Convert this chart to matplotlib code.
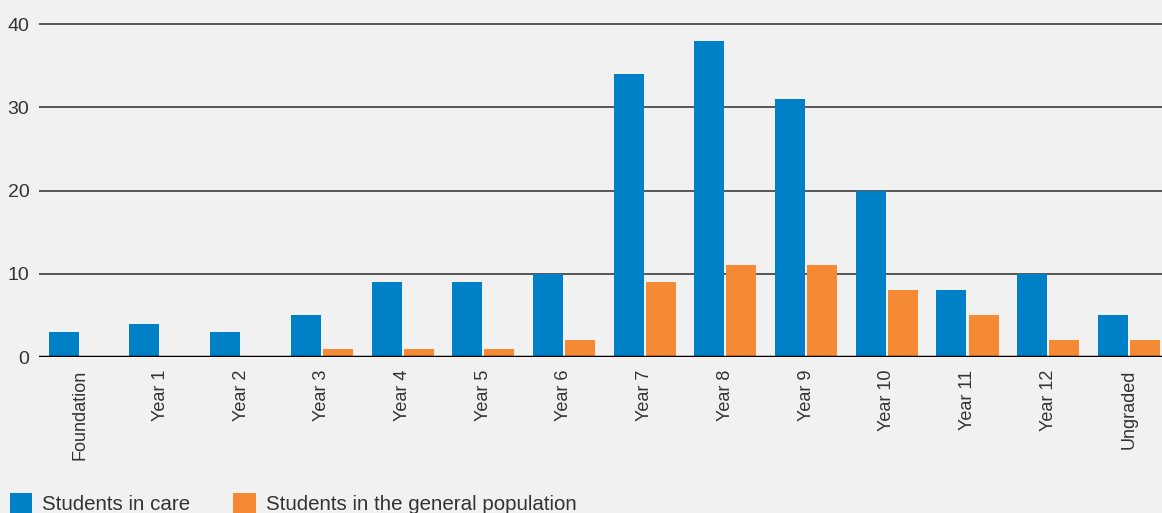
import matplotlib
matplotlib.use("Agg")
from matplotlib import pyplot as plt
import numpy as np

plt.rcParams['font.family'] = ['Liberation Sans', 'DejaVu Sans']

grades = ['Foundation', 'Year 1', 'Year 2', 'Year 3', 'Year 4', 'Year 5', 'Year 6',
          'Year 7', 'Year 8', 'Year 9', 'Year 10', 'Year 11', 'Year 12', 'Ungraded']
in_care = [3, 4, 3, 5, 9, 9, 10, 34, 38, 31, 20, 8, 10, 5]
general = [0, 0, 0, 1, 1, 1, 2, 9, 11, 11, 8, 5, 2, 2]

bg = '#f1f1f1'
blue = '#0080c6'
orange = '#f58a35'
W, H = 1162, 513

fig = plt.figure(figsize=(W / 100, H / 100), dpi=100, facecolor=bg)
ax = fig.add_axes([39 / W, 1 - 357 / H, 1 - 39 / W, (357 - 15.7) / H])
ax.set_facecolor(bg)

x = np.arange(len(grades))
w = 0.372
ax.bar(x - 0.013 - w / 2, in_care, w, color=blue, label='Students in care', zorder=3)
ax.bar(x + 0.013 + w / 2, general, w, color=orange,
       label='Students in the general population', zorder=3)

ax.set_xlim(-0.505, 13.41)
ax.set_ylim(0, 41)
ax.set_yticks([0, 10, 20, 30, 40])
for v in [10, 20, 30, 40]:
    ax.axhline(v, color='#4a4a4a', lw=1.3, zorder=1)
ax.axhline(0, color='black', lw=2.5, zorder=4)

for s in ax.spines.values():
    s.set_visible(False)
ax.tick_params(axis='y', length=0, pad=7, labelsize=14, labelcolor='#333333')
ax.tick_params(axis='x', length=0, pad=9, labelsize=13, labelcolor='#333333')
ax.set_xticks(x)
ax.set_xticklabels(grades, rotation=90, ha='center', va='top')

leg = fig.legend(loc='lower left', bbox_to_anchor=(0.003, -0.014), ncol=2, frameon=False,
                 fontsize=14.8, handlelength=1.1, handleheight=1.1, handletextpad=0.48,
                 columnspacing=2.1, borderaxespad=0, borderpad=0.3)
for t in leg.get_texts():
    t.set_color('#333333')

fig.savefig('out.png', dpi=100, facecolor=bg)
